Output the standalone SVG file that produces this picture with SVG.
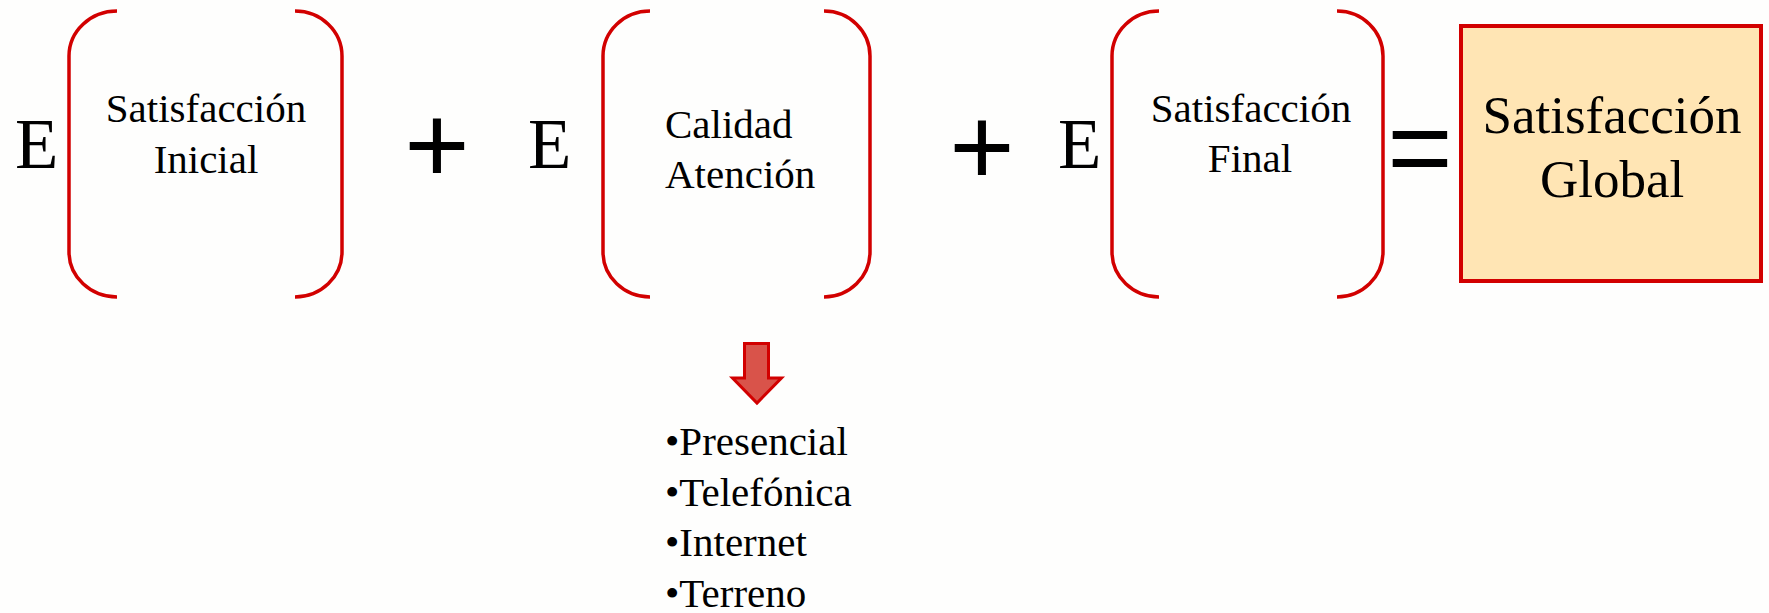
<svg xmlns="http://www.w3.org/2000/svg" width="1769" height="613" viewBox="0 0 1769 613">
<style>
.br{fill:none;stroke:#D20000;stroke-width:3.5}
.t{font-family:"Liberation Serif","Times New Roman",serif;fill:#000}
.s{font-size:41px}
.e{font-size:71px}
.op{font-family:"Liberation Sans",Arial,sans-serif;font-size:112px;fill:#000}
.g{font-size:53px}
</style>
<rect width="1769" height="613" fill="#FEFEFD"/>
<g id="term1">
<text class="t e" x="15" y="168">E</text>
<path class="br" d="M117,11 A48,45 0 0 0 69,56 L69,252 A48,45 0 0 0 117,297"/>
<path class="br" d="M295,11 A47,45 0 0 1 342,56 L342,252 A47,45 0 0 1 295,297"/>
<text class="t s" x="206" y="122" text-anchor="middle">Satisfacción</text>
<text class="t s" x="206" y="173" text-anchor="middle">Inicial</text>
</g>
<g id="plus1"><text class="op" x="437" y="183" text-anchor="middle">+</text></g>
<g id="term2">
<text class="t e" x="528" y="168">E</text>
<path class="br" d="M650,11 A47,45 0 0 0 603,56 L603,252 A47,45 0 0 0 650,297"/>
<path class="br" d="M824,11 A46,45 0 0 1 870,56 L870,252 A46,45 0 0 1 824,297"/>
<text class="t s" x="665" y="138">Calidad</text>
<text class="t s" x="665" y="188">Atención</text>
</g>
<g id="plus2"><text class="op" x="982" y="185" text-anchor="middle">+</text></g>
<g id="term3">
<text class="t e" x="1058" y="168">E</text>
<path class="br" d="M1159,11 A47,45 0 0 0 1112,56 L1112,252 A47,45 0 0 0 1159,297"/>
<path class="br" d="M1337,11 A46,45 0 0 1 1383,56 L1383,252 A46,45 0 0 1 1337,297"/>
<text class="t s" x="1251" y="122" text-anchor="middle">Satisfacción</text>
<text class="t s" x="1250" y="172" text-anchor="middle">Final</text>
</g>
<g id="equals"><text class="op" x="1420" y="186" text-anchor="middle">=</text></g>
<g id="result">
<rect x="1461" y="26" width="300" height="255" fill="#FFE5B4" stroke="#D20000" stroke-width="4"/>
<text class="t g" x="1612" y="133" text-anchor="middle">Satisfacción</text>
<text class="t g" x="1612" y="197" text-anchor="middle">Global</text>
</g>
<g id="connectors">
<polygon points="744.5,343.5 768.5,343.5 768.5,378 781.5,378 757,403 732.5,378 744.5,378" fill="#D9534A" stroke="#D20000" stroke-width="3"/>
</g>
<g id="channels">
<text class="t s" x="665" y="455">•Presencial</text>
<text class="t s" x="665" y="506">•Telefónica</text>
<text class="t s" x="665" y="556">•Internet</text>
<text class="t s" x="665" y="607">•Terreno</text>
</g>
</svg>
